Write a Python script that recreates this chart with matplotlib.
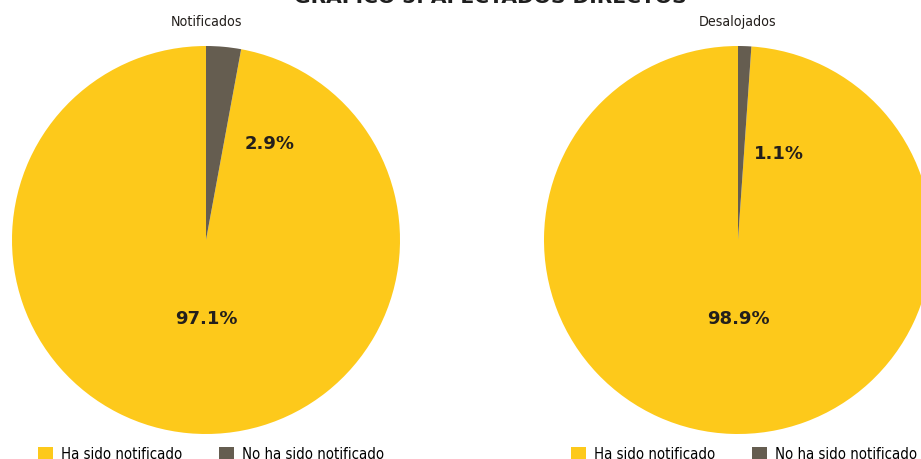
import matplotlib.pyplot as plt
from matplotlib.patches import Patch

# Afectados directos: notificados y desalojados
categorias = ["Ha sido notificado", "No ha sido notificado"]
notificados = [97.1, 2.9]
desalojados = [98.9, 1.1]
titulos = ["Notificados", "Desalojados"]

AMARILLO = "#fdc91b"
GRIS = "#655d50"
colores = [AMARILLO, GRIS]

NARROW = dict(family=["Liberation Sans Narrow", "DejaVu Sans"],
              stretch="condensed")
BOLD = ["DejaVu Sans"]

W, H = 921, 460
fig = plt.figure(figsize=(W / 100, H / 100), dpi=100)
fig.patch.set_facecolor("white")

fig.text(490 / W, 1 - 3 / H, "GRÁFICO 5. AFECTADOS DIRECTOS", ha="center",
         va="baseline", fontsize=14.6, fontweight="bold", color="#1e1e1e",
         family=BOLD)

# centro de cada tarta (px) y posiciones de las etiquetas (en radios)
centros = [206, 738]
R = 194
etiquetas_pos = [[(0.0, -0.40), (0.33, 0.50)],
                 [(0.0, -0.40), (0.21, 0.45)]]
legend_x = [38, 571]

for i, (vals, titulo) in enumerate(zip([notificados, desalojados], titulos)):
    cx = centros[i]
    ax = fig.add_axes([(cx - R) / W, (H - 241 - R) / H, 2 * R / W, 2 * R / H])
    ax.pie(vals, colors=colores, startangle=90, counterclock=True,
           wedgeprops=dict(linewidth=0))
    ax.set_xlim(-1, 1)
    ax.set_ylim(-1, 1)
    ax.set_aspect("equal")
    ax.axis("off")
    for v, (px, py) in zip(vals, etiquetas_pos[i]):
        ax.text(px, py, f"{v:.1f}%", ha="center", va="center", fontsize=13,
                fontweight="bold", color="#231f1c", family=BOLD)

    fig.text(cx / W, 1 - 22 / H, titulo, ha="center", va="center",
             fontsize=10.2, color="#231f1c", **NARROW)

    handles = [Patch(facecolor=c, edgecolor="none") for c in colores]
    fig.legend(handles, categorias, loc="center left",
               bbox_to_anchor=(legend_x[i] / W, 1 - 455 / H),
               ncol=2, frameon=False, handlelength=1.0, handleheight=1.0,
               handletextpad=0.55, columnspacing=2.5, borderpad=0,
               borderaxespad=0, prop=dict(size=10.7, **NARROW))

fig.savefig("out.png", dpi=100)
